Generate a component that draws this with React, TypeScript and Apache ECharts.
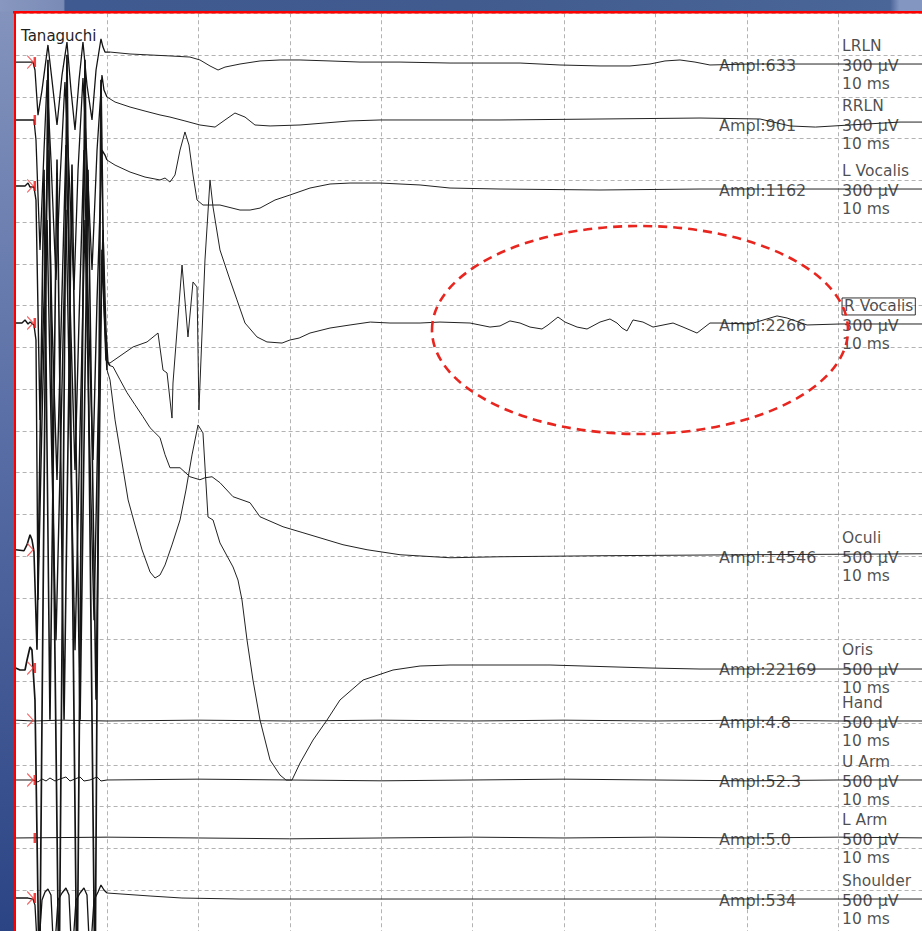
import React, { useEffect, useRef } from "react";
import * as echarts from "echarts";

// ---------- data ----------
const CHANNELS = ["LRLN", "RRLN", "L Vocalis", "R Vocalis", "Oculi", "Oris", "Hand", "U Arm", "L Arm", "Shoulder"];
const SENSITIVITY_UV = [300, 300, 300, 300, 500, 500, 500, 500, 500, 500]; // µV per division
const TIMEBASE_MS = [10, 10, 10, 10, 10, 10, 10, 10, 10, 10];
const AMPLITUDES = ["633", "901", "1162", "2266", "14546", "22169", "4.8", "52.3", "5.0", "534"];
const SUBJECT = "Tanaguchi";
const STIM_END_MS = 10; // end of stimulus artifact window

// traces: [time ms, deflection µV (positive = up)]
const LRLN_UV = [[0,14],[1.36,14],[1.9,14],[2.12,-43],[2.45,-367],[2.89,-187],[3.54,137],[3.98,-115],[4.53,-438],[5.08,-79],[5.62,158],[6.06,-187],[6.5,-474],[6.94,-115],[7.37,158],[7.81,-151],[8.36,-402],[8.8,-43],[9.34,180],[9.56,122],[9.78,86],[10.33,86],[12.52,72],[14.71,65],[16.89,58],[19.08,50],[20.17,29],[21.27,-14],[22.15,-43],[22.91,-22],[24.55,0],[26.74,22],[28.93,29],[31.12,29],[34.4,22],[37.68,14],[42.06,14],[47.53,7],[55.19,7],[59.56,-7],[63.94,-14],[67.22,-14],[69.41,0],[71.05,22],[72.69,29],[74.33,14],[75.97,-7],[80.35,0],[91.29,0],[100,0]];
const RRLN_UV = [[0,29],[1.36,29],[2.01,29],[2.23,-115],[2.67,-906],[3.11,-187],[3.44,316],[3.87,-259],[4.42,-1121],[4.86,-402],[5.4,302],[5.84,-331],[6.39,-1193],[6.83,-331],[7.37,331],[7.81,-259],[8.36,-1049],[8.91,-187],[9.45,352],[9.67,244],[10,194],[10.88,158],[12.52,122],[14.16,93],[15.8,65],[16.89,50],[18.53,22],[20.17,-7],[21.82,-22],[22.91,29],[24,79],[25.1,50],[26.19,-7],[27.84,-14],[31.12,-7],[36.59,22],[39.87,29],[53,29],[63.94,36],[74.88,43],[81.45,36],[84.73,-14],[87.5,-22],[91.29,-7],[96.76,14],[100,14]];
const LVOC_UV = [[0,22],[1.03,22],[1.36,43],[1.58,14],[2.01,14],[2.23,-79],[2.67,-1660],[3.11,-798],[3.54,280],[3.98,-941],[4.53,-2091],[4.97,-1013],[5.51,316],[5.95,-798],[6.5,-2019],[6.94,-941],[7.48,280],[7.92,-798],[8.47,-1947],[8.91,-798],[9.45,280],[9.78,244],[10,208],[10.88,172],[12.52,122],[14.16,86],[15.8,65],[16.35,79],[16.89,50],[17.44,101],[17.99,280],[18.53,410],[18.97,316],[19.41,101],[19.85,-79],[20.5,-115],[22.36,-115],[24.55,-151],[25.65,-151],[26.74,-137],[28.38,-79],[30.02,-43],[32.21,7],[34.4,36],[36.59,43],[39.87,43],[44.25,29],[47.53,7],[53,0],[63.94,-7],[74.88,0],[100,0]];
const RVOC_UV = [[0,7],[0.7,7],[1.03,29],[1.36,0],[1.58,14],[2.01,-7],[2.23,-115],[2.45,-1984],[2.89,-690],[3.44,748],[3.87,-690],[4.42,-2272],[4.97,-762],[5.51,820],[5.95,-690],[6.5,-2344],[7.05,-762],[7.59,748],[8.03,-690],[8.58,-2128],[9.02,-690],[9.56,676],[9.89,-43],[10.11,-280],[10.33,-280],[12.85,-165],[14.38,-129],[15.58,-65],[16.13,-331],[16.57,-352],[17.11,-676],[17.22,-424],[18.21,424],[18.86,-93],[19.41,302],[19.85,266],[20.06,-618],[20.72,460],[21.27,1035],[21.6,841],[22.36,532],[23.46,316],[24.22,173],[25.1,7],[26.41,-93],[27.5,-129],[29.15,-137],[30.02,-115],[31.02,-101],[32.21,-65],[34.4,-29],[36.59,-7],[38.8,14],[40.96,7],[44.25,7],[46.43,14],[49.72,7],[51.9,-22],[53,-14],[54.09,22],[55.19,7],[56.28,-22],[57.59,-36],[58.25,-7],[59.34,50],[60.11,14],[61.43,-22],[62.52,-36],[63.94,14],[65.03,36],[65.8,7],[66.35,-29],[66.89,-50],[67.55,29],[68.64,14],[69.74,-22],[71.93,7],[73.02,-22],[74.55,-65],[75.97,7],[77.07,7],[80.35,0],[83.31,58],[84.4,43],[86.59,-7],[90.2,0],[96.76,0],[100,0]];
const OCULI_UV = [[0,72],[0.92,60],[1.25,132],[1.58,252],[1.79,192],[2.01,48],[2.34,-1126],[3.11,4624],[3.76,-1965],[4.53,4744],[5.3,-1965],[6.17,4684],[7.05,-1965],[7.92,4624],[8.8,-1725],[9.45,3666],[9.89,2348],[10.33,2276],[10.66,2264],[11.42,2108],[12.19,1953],[13.06,1809],[13.94,1665],[14.71,1533],[15.8,1414],[16.35,1210],[16.89,1054],[17.99,1054],[19.08,946],[20.17,910],[20.72,934],[21.49,946],[22.36,875],[23.79,707],[25.65,635],[26.74,467],[29.26,347],[31.44,276],[35.82,132],[38.45,72],[42.06,12],[47.53,-24],[53,-12],[63.94,0],[80,12],[100,24]];
const ORIS_UV = [[0,0],[0.48,-24],[1.03,-24],[1.25,96],[1.58,252],[1.79,216],[1.9,12],[2.12,-383],[2.61,-3977],[3.54,7284],[4.75,-3977],[5.62,7344],[6.72,-3977],[7.59,7284],[8.69,-3977],[9.34,7044],[9.67,4409],[10,3570],[10.33,3450],[10.88,2971],[11.42,2612],[12.31,2013],[13.06,1713],[13.84,1414],[14.71,1150],[15.25,1078],[15.8,1114],[16.35,1234],[17.11,1474],[17.99,1773],[18.64,2132],[19.3,2552],[19.96,2911],[20.5,2815],[21.05,1809],[21.6,1773],[22.36,1498],[23.79,1210],[24.33,1054],[24.77,815],[25.32,335],[25.97,-144],[26.74,-623],[27.84,-1102],[28.93,-1282],[29.59,-1342],[30.24,-1342],[31.12,-1138],[32.54,-863],[34.07,-623],[35.49,-383],[38.01,-144],[41.29,-24],[44.25,24],[47.53,36],[58.47,36],[69.41,0],[74.88,-12],[100,-12]];
const HAND_UV = [[0,10],[2,0],[5,10],[10,0],[20,10],[30,0],[40,10],[50,0],[60,10],[70,0],[80,10],[90,0],[100,0]];
const UARM_UV = [[0,0],[1.9,0],[2.45,-24],[2.89,12],[3.33,-12],[3.76,24],[4.31,-12],[4.86,12],[5.51,36],[5.95,-12],[6.5,12],[7.05,36],[7.48,-12],[8.14,0],[8.91,36],[9.34,-12],[10,0],[20,10],[30,0],[40,-10],[50,0],[60,10],[70,0],[80,-10],[90,0],[100,0]];
const LARM_UV = [[0,0],[10,10],[20,0],[30,-10],[40,0],[50,10],[60,0],[70,10],[80,0],[90,10],[100,0]];
const SHOULDER_UV = [[0,12],[1.36,12],[1.9,0],[2.12,-72],[2.45,-731],[2.89,-12],[3.22,84],[3.54,120],[3.87,48],[4.2,-731],[4.64,-12],[5.08,72],[5.51,132],[5.84,48],[6.17,-731],[6.61,-12],[7.05,72],[7.48,132],[7.81,48],[8.14,-731],[8.58,-12],[9.02,84],[9.34,168],[9.67,108],[10,72],[14.71,36],[18.2,12],[24.55,0],[53,0],[100,0]];

const TRACES = [LRLN_UV, RRLN_UV, LVOC_UV, RVOC_UV, OCULI_UV, ORIS_UV, HAND_UV, UARM_UV, LARM_UV, SHOULDER_UV];
const HAS_ARROW = [true, false, true, true, true, true, true, true, false, true];
const HAS_BAR = [true, true, true, true, false, true, false, true, true, true];

// ---------- layout (divisions from top of screen) ----------
const BASELINE_DIV = [1.216, 2.653, 4.21, 7.443, 12.994, 15.683, 16.952, 18.365, 19.754, 21.216];
const ARTIFACT_WIDTH = [1.3, 1.3, 1.4, 1.4, 1.6, 1.7, 1, 1, 1, 1.3];
const AMPL_X_MS = 76.96;
const COLUMN_X_MS = 90.42;
const FONT = "DejaVu Sans";
const TEXT_COLOR = "#1e1e1e";

export default function App() {
  const ref = useRef<HTMLDivElement>(null);

  useEffect(() => {
    if (!ref.current) return;
    const chart = echarts.init(ref.current, null, { renderer: "svg" });

    const toPlot = (i: number) => ([t, v]: number[]) => [t, BASELINE_DIV[i] - v / SENSITIVITY_UV[i]];

    const lineSeries: any[] = [];
    TRACES.forEach((tr, i) => {
      const cut = tr.findIndex(([t]) => t >= STIM_END_MS);
      const early = tr.slice(0, cut + 1).map(toPlot(i));
      const late = tr.slice(cut).map(toPlot(i));
      lineSeries.push({
        type: "line",
        name: CHANNELS[i] + " artifact",
        data: early,
        showSymbol: false,
        symbol: "none",
        silent: true,
        clip: true,
        z: 3,
        lineStyle: { color: "#141414", width: ARTIFACT_WIDTH[i] },
      });
      lineSeries.push({
        type: "line",
        name: CHANNELS[i],
        data: late,
        showSymbol: false,
        symbol: "none",
        silent: true,
        clip: true,
        z: 3,
        lineStyle: { color: "#222222", width: 1 },
      });
    });

    const arrowData: any[] = [];
    const barData: any[] = [];
    TRACES.forEach((tr, i) => {
      const y = BASELINE_DIV[i] - tr[0][1] / SENSITIVITY_UV[i];
      if (HAS_ARROW[i]) arrowData.push([1.6, y]);
      if (HAS_BAR[i]) barData.push([2.1, y]);
    });

    const labelData: any[] = [];
    CHANNELS.forEach((name, i) => {
      const b = BASELINE_DIV[i];
      labelData.push({ value: [AMPL_X_MS, b + 0.03], label: { formatter: "Ampl:" + AMPLITUDES[i], fontSize: 16 } });
      labelData.push({
        value: [COLUMN_X_MS, b - 0.42],
        label:
          i === 3
            ? { formatter: name, borderColor: "#000", borderWidth: 1, padding: [1, 2, 0, 2] }
            : { formatter: name },
      });
      labelData.push({ value: [COLUMN_X_MS, b + 0.03], label: { formatter: SENSITIVITY_UV[i] + " µV", fontSize: 16 } });
      labelData.push({ value: [COLUMN_X_MS, b + 0.49], label: { formatter: TIMEBASE_MS[i] + " ms" } });
    });

    const option: any = {
      animation: false,
      backgroundColor: "#ffffff",
      title: {
        text: SUBJECT,
        left: 21,
        top: 28,
        padding: 0,
        textStyle: { fontFamily: FONT, fontSize: 15, fontWeight: "normal", color: TEXT_COLOR },
      },
      grid: {
        left: 15.6,
        top: 13.25,
        width: 914,
        height: 918.5,
        show: true,
        backgroundColor: "#ffffff",
        borderWidth: 0,
      },
      xAxis: {
        type: "value",
        min: 0,
        max: 100,
        interval: 10,
        axisLine: { show: false },
        axisTick: { show: false },
        axisLabel: { show: false },
        splitLine: { show: true, lineStyle: { color: "#b3b3b3", width: 1, type: [4, 3] } },
      },
      yAxis: {
        type: "value",
        inverse: true,
        min: 0,
        max: 22,
        interval: 1,
        axisLine: { show: false },
        axisTick: { show: false },
        axisLabel: { show: false },
        splitLine: { show: true, lineStyle: { color: "#b3b3b3", width: 1, type: [4, 3] } },
      },
      series: [
        ...lineSeries,
        {
          type: "scatter",
          data: arrowData,
          symbol: "path://M0,0L6,6.5L0,13",
          symbolSize: [6, 13],
          silent: true,
          z: 5,
          itemStyle: { color: "none", borderColor: "#f23a3a", borderWidth: 1 },
        },
        {
          type: "scatter",
          data: barData,
          symbol: "rect",
          symbolSize: [2.5, 10],
          silent: true,
          z: 5,
          itemStyle: { color: "#ee1111" },
        },
        {
          type: "scatter",
          data: labelData,
          symbolSize: 0,
          silent: true,
          z: 10,
          itemStyle: { color: "rgba(0,0,0,0)" },
          label: {
            show: true,
            position: "right",
            distance: 0,
            color: TEXT_COLOR,
            fontFamily: FONT,
            fontSize: 15.5,
            align: "left",
            verticalAlign: "middle",
          },
        },
      ],
      graphic: [
        {
          type: "rect",
          z: 100,
          shape: { x: 0, y: 0, width: 14, height: 933 },
          style: {
            fill: new echarts.graphic.LinearGradient(0, 0, 0, 1, [
              { offset: 0, color: "#8494bd" },
              { offset: 0.45, color: "#5a6fa6" },
              { offset: 1, color: "#2b4484" },
            ]),
          },
        },
        {
          type: "rect",
          z: 100,
          shape: { x: 0, y: 0, width: 932, height: 11.5 },
          style: {
            fill: new echarts.graphic.LinearGradient(0, 0, 1, 0, [
              { offset: 0, color: "#8797bf" },
              { offset: 0.068, color: "#7a8bb6" },
              { offset: 0.07, color: "#3f5a90" },
              { offset: 0.5, color: "#415b8f" },
              { offset: 0.955, color: "#4a6598" },
              { offset: 0.965, color: "#8396c2" },
              { offset: 1, color: "#8396c2" },
            ]),
          },
        },
        {
          type: "line",
          z: 101,
          shape: { x1: 13, y1: 12.3, x2: 932, y2: 12.3 },
          style: { stroke: "#ff0000", lineWidth: 2.4 },
        },
        {
          type: "line",
          z: 101,
          shape: { x1: 15, y1: 11, x2: 15, y2: 933 },
          style: { stroke: "#ff0000", lineWidth: 2 },
        },
        {
          type: "ellipse",
          z: 101,
          shape: { cx: 640, cy: 330, rx: 208, ry: 104 },
          style: { fill: null, stroke: "#e8261f", lineWidth: 2.6, lineDash: [9, 6] },
        },
      ],
    };

    chart.setOption(option);
    return () => chart.dispose();
  }, []);

  return (
    <div style={{ position: "fixed", left: 0, top: 0, width: 922, height: 931, overflow: "hidden", background: "#fff" }}>
      <div ref={ref} style={{ position: "absolute", left: 0, top: 0, width: 932, height: 933 }} />
    </div>
  );
}
